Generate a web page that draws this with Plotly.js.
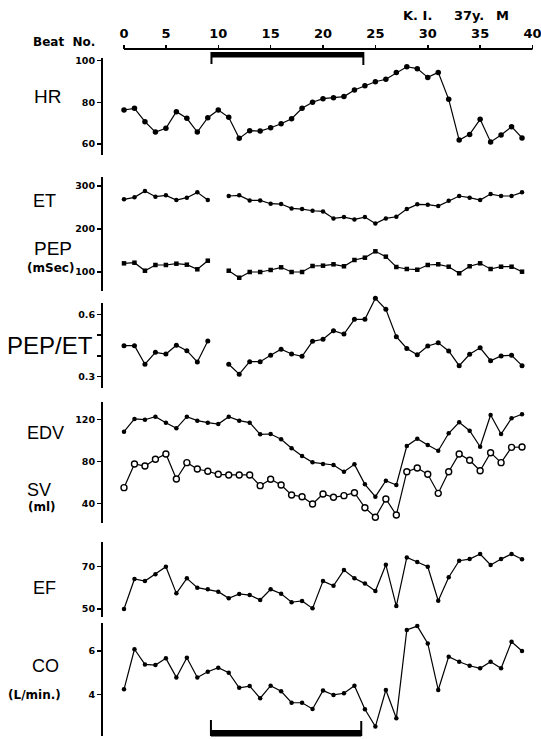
<!DOCTYPE html>
<html><head><meta charset="utf-8">
<script src="https://cdn.plot.ly/plotly-3.0.1.min.js"></script>
<style>html,body{margin:0;padding:0;background:#fff}#chart{width:541px;height:739px}</style>
</head><body><div id="chart"></div>
<script>
// ---------------- data ----------------
const beats = [1,2,3,4,5,6,7,8,9,10,11,12,13,14,15,16,17,18,19,20,21,22,23,24,25,26,27,28,29,30,31,32,33,34,35,36,37,38,39];
const hr = [76.3,77.1,70.7,65.7,67.5,75.5,72.3,65.7,72.6,76.3,72.8,62.7,66.4,66.2,67.8,69.7,72.1,77.1,80.0,81.7,82.2,82.7,85.9,87.9,89.8,91.0,94.2,97.0,96.1,91.9,94.3,81.4,61.9,64.6,71.8,61.0,64.3,68.3,62.9];
const et = [269.0,273.6,288.3,275.1,278.2,267.3,272.8,285.2,267.3,null,276.7,278.2,266.5,266.5,258.8,258.0,247.9,246.3,242.4,240.9,224.6,227.7,222.3,227.7,212.9,224.6,228.4,246.3,257.3,256.5,253.3,265.7,276.7,272.8,267.3,281.3,276.7,276.7,285.2];
const pep = [120.2,121.6,103.0,116.3,116.3,119.3,117.0,106.3,126.3,null,103.0,86.7,100.0,100.0,104.7,110.9,100.0,100.0,114.0,114.7,117.9,113.3,127.9,133.3,148.1,135.6,111.6,107.0,105.3,116.3,117.9,112.3,97.0,113.3,120.2,107.0,112.3,112.3,100.7];
const pepEt = [0.449,0.449,0.360,0.417,0.409,0.451,0.425,0.371,0.472,null,0.360,0.312,0.372,0.372,0.403,0.432,0.409,0.398,0.470,0.480,0.521,0.505,0.576,0.576,0.677,0.624,0.492,0.436,0.406,0.448,0.463,0.424,0.353,0.408,0.439,0.377,0.400,0.403,0.353];
const edv = [108.2,120.3,119.6,122.5,116.8,111.4,122.5,118.7,116.8,115.5,122.5,118.7,116.8,105.7,106.0,101.0,92.4,85.0,79.0,77.4,76.5,70.1,77.1,58.1,46.3,61.5,57.4,94.6,101.5,95.5,90.1,106.7,117.1,109.1,93.9,124.1,106.0,121.0,124.8];
const sv = [54.9,77.4,75.5,81.9,87.0,63.1,78.7,72.7,70.5,67.6,67.0,67.0,67.0,56.8,62.9,57.4,47.9,46.3,39.3,48.9,45.7,47.3,50.1,35.8,26.7,44.1,28.9,70.1,73.6,67.6,49.5,70.1,87.0,81.0,71.0,88.2,78.7,93.3,93.6];
const ef = [50.0,64.2,63.2,66.4,70.0,57.4,64.5,60.1,59.3,58.2,55.1,57.1,56.6,54.3,59.3,57.2,53.2,53.8,50.3,63.2,61.0,68.4,64.5,62.0,58.5,70.9,51.4,74.4,72.2,70.0,53.9,65.0,72.8,73.6,76.0,70.8,73.6,76.0,73.5];
const co = [4.23,6.08,5.38,5.35,5.66,4.78,5.69,4.78,5.04,5.23,5.00,4.30,4.38,3.82,4.40,4.14,3.61,3.61,3.32,4.17,3.97,4.05,4.40,3.31,2.51,4.20,2.89,6.97,7.15,6.35,4.20,5.74,5.50,5.32,5.20,5.50,5.20,6.43,6.00];
const beatTickVals = [1,5,10,15,20,25,30,35,40];
const beatTickText = ['0','5','10','15','20','25','30','35','40'];
const bracketBeats = [9.35, 23.85];
const bracketBeatsBottom = [9.3, 23.65];

// ---------------- layout helpers ----------------
const W = 541, H = 739;
const py = p => 1 - p / H;
const pxX = p => p / W;
function rangeFrom(topPx, botPx, v1, p1, v2, p2) {
  const k = (p2 - p1) / (v2 - v1);
  return [v1 + (botPx - p1) / k, v1 + (topPx - p1) / k];
}
const AXIS_X = 102;
const xDomPx = [AXIS_X, 535];
const xk = (532.5 - 124) / 39;
const xRange = [1 - (124 - xDomPx[0]) / xk, 40 + (xDomPx[1] - 532.5) / xk];

const panels = [
  {name:'yaxis',  dom:[58,155],  line:[58,155],  cal:[100,60.5,60,144],   tv:[60,80,100],        tt:['60','80','100']},
  {name:'yaxis2', dom:[177,291], line:[177,291], cal:[300,186,100,272],   tv:[100,200,300],      tt:['100','200','300']},
  {name:'yaxis3', dom:[294,388], line:[303,388], cal:[0.6,314.3,0.3,376.7], tv:[0.3,0.4,0.5,0.6], tt:['0.3','','','0.6']},
  {name:'yaxis4', dom:[402,523], line:[402,523], cal:[120,419.3,40,503.3], tv:[40,80,120],       tt:['40','80','120']},
  {name:'yaxis5', dom:[542,617], line:[542,617], cal:[70,566.7,50,609],   tv:[50,70],            tt:['50','70']},
  {name:'yaxis6', dom:[623,736], line:[623,736], cal:[6,651,4,694.3],     tv:[4,6],              tt:['4','6']}
];

const layout = {
  width: W, height: H,
  margin: {l:0, r:0, t:0, b:0},
  paper_bgcolor: '#fff', plot_bgcolor: 'rgba(0,0,0,0)',
  showlegend: false,
  hovermode: false,
  font: {family: 'DejaVu Sans', color: '#000'},
  xaxis: {
    domain: [pxX(xDomPx[0]), pxX(xDomPx[1])],
    range: xRange,
    anchor: 'free', position: py(49), side: 'top',
    showline: false, showgrid: false, zeroline: false,
    ticks: 'outside', ticklen: 4, tickwidth: 1.5, tickcolor: '#000',
    ticklabeloverflow: 'allow', ticklabelstandoff: 2,
    tickvals: beatTickVals, ticktext: beatTickText,
    tickfont: {family: 'DejaVu Sans', size: 13, weight: 'bold', color: '#000'},
    fixedrange: true
  },
  shapes: [],
  annotations: []
};

panels.forEach(p => {
  layout[p.name] = {
    domain: [py(p.dom[1]), py(p.dom[0])],
    range: rangeFrom(p.dom[0], p.dom[1], p.cal[0], p.cal[1], p.cal[2], p.cal[3]),
    anchor: 'x',
    showline: false, showgrid: false, zeroline: false,
    ticks: 'outside', ticklen: 4, tickwidth: 1.5, tickcolor: '#000',
    tickvals: p.tv, ticktext: p.tt,
    tickfont: {family: 'DejaVu Sans', size: 9.5, weight: 'bold', color: '#000'},
    fixedrange: true
  };
  layout.shapes.push({type:'line', xref:'paper', yref:'paper',
    x0: pxX(AXIS_X), x1: pxX(AXIS_X), y0: py(p.line[0]), y1: py(p.line[1]),
    line: {color:'#000', width: 2}});
});

// top beat axis line
layout.shapes.push({type:'line', xref:'x', yref:'paper', x0: beatTickVals[0], x1: beatTickVals[beatTickVals.length-1],
  y0: py(49), y1: py(49), line: {color:'#000', width: 2}});
// top bracket
layout.shapes.push({type:'rect', xref:'x', yref:'paper', x0: bracketBeats[0], x1: bracketBeats[1],
  y0: py(57.5), y1: py(52), fillcolor:'#000', line:{width:0}});
layout.shapes.push({type:'line', xref:'x', yref:'paper', x0: bracketBeats[0], x1: bracketBeats[0], y0: py(52), y1: py(64), line:{color:'#000', width:2}});
layout.shapes.push({type:'line', xref:'x', yref:'paper', x0: bracketBeats[1], x1: bracketBeats[1], y0: py(52), y1: py(65), line:{color:'#000', width:2}});
// bottom bracket
layout.shapes.push({type:'rect', xref:'x', yref:'paper', x0: bracketBeatsBottom[0], x1: bracketBeatsBottom[1],
  y0: py(736.5), y1: py(730), fillcolor:'#000', line:{width:0}});
layout.shapes.push({type:'line', xref:'x', yref:'paper', x0: bracketBeatsBottom[0], x1: bracketBeatsBottom[0], y0: py(736), y1: py(720), line:{color:'#000', width:2}});
layout.shapes.push({type:'line', xref:'x', yref:'paper', x0: bracketBeatsBottom[1], x1: bracketBeatsBottom[1], y0: py(736), y1: py(721), line:{color:'#000', width:2}});

function ann(text, xc, yc, size, bold, family, xanchor) {
  layout.annotations.push({text: text, xref:'paper', yref:'paper', x: pxX(xc), y: py(yc),
    xanchor: xanchor || 'center', yanchor: 'middle', showarrow: false,
    font: {family: family || 'Liberation Sans', size: size, color:'#000', weight: bold ? 'bold' : 'normal'}});
}
ann('K. I.', 417, 15, 13, true, 'DejaVu Sans');
ann('37y.', 469, 15, 13, true, 'DejaVu Sans');
ann('M', 502, 15, 13, true, 'DejaVu Sans');
ann('Beat  No.', 64, 42, 12, true, 'DejaVu Sans');
ann('HR', 47, 96, 19);
ann('ET', 44, 201, 18);
ann('PEP', 53, 249, 19);
ann('(mSec)', 50, 268, 12, true, 'DejaVu Sans');
ann('PEP/ET', 50, 345, 24);
ann('EDV', 45, 433, 18);
ann('SV', 39, 490, 18);
ann('(ml)', 42, 507, 12, true, 'DejaVu Sans');
ann('EF', 44, 588, 18);
ann('CO', 45, 666, 18);
ann('(L/min.)', 34, 695, 12, true, 'DejaVu Sans');

const lineStyle = {color:'#000', width: 1.2};
function dotTrace(y, yaxis, size, symbol) {
  return {x: beats, y: y, yaxis: yaxis, type:'scatter', mode:'lines+markers', cliponaxis: false,
    line: lineStyle, marker: {color:'#000', size: size, symbol: symbol || 'circle'}};
}
const traces = [
  dotTrace(hr, 'y', 5.5),
  dotTrace(et, 'y2', 4.5),
  dotTrace(pep, 'y2', 4.5, 'square'),
  dotTrace(pepEt, 'y3', 5),
  dotTrace(edv, 'y4', 4.5),
  {x: beats, y: sv, yaxis:'y4', type:'scatter', mode:'lines+markers', cliponaxis:false,
   line: lineStyle, marker:{color:'#fff', size: 6, line:{color:'#000', width:1.4}}},
  dotTrace(ef, 'y5', 4.5),
  dotTrace(co, 'y6', 4.5)
];

Plotly.newPlot('chart', traces, layout, {staticPlot: true, displayModeBar: false});
</script>
</body></html>
